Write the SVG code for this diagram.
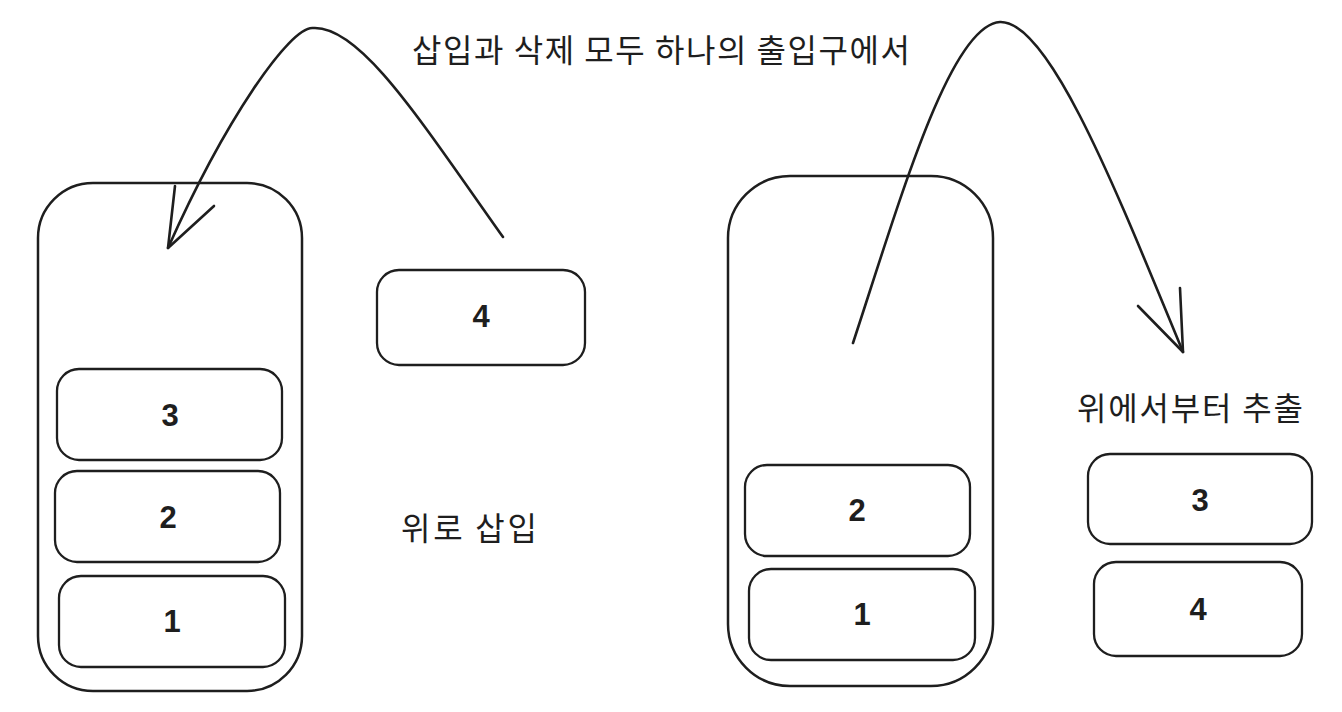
<svg xmlns="http://www.w3.org/2000/svg" width="1342" height="712" viewBox="0 0 1342 712">
<style>
.box{fill:none;stroke:#1e1e1e;stroke-width:2.3}
.cont{fill:none;stroke:#1e1e1e;stroke-width:2.5}
.num{font-family:"Liberation Sans",sans-serif;font-size:31px;font-weight:bold;fill:#1e1e1e;text-anchor:middle;dominant-baseline:central}
.lbl{font-family:"Noto Sans CJK KR","Noto Sans",sans-serif;font-size:32px;fill:#1e1e1e}
.conn{fill:none;stroke:#1e1e1e;stroke-width:2.6;stroke-linecap:round;stroke-linejoin:round}
</style>
<rect width="1342" height="712" fill="#ffffff"/>
<g id="left-stack">
<rect class="cont" x="38" y="183" width="264" height="508" rx="55"/>
</g>
<g id="l3"><rect class="box" x="57" y="369" width="225" height="91" rx="22"/><text class="num" x="170" y="415">3</text></g>
<g id="l2"><rect class="box" x="55" y="471" width="225" height="91" rx="22"/><text class="num" x="168" y="517">2</text></g>
<g id="l1"><rect class="box" x="59" y="576" width="226" height="91" rx="22"/><text class="num" x="172" y="621">1</text></g>
<g id="n4"><rect class="box" x="377" y="270" width="208" height="95" rx="22"/><text class="num" x="481" y="316">4</text></g>
<g id="right-stack">
<rect class="cont" x="728" y="176" width="265" height="510" rx="62"/>
</g>
<g id="r2"><rect class="box" x="745" y="465" width="225" height="91" rx="22"/><text class="num" x="857" y="510">2</text></g>
<g id="r1"><rect class="box" x="749" y="569" width="226" height="91" rx="22"/><text class="num" x="862" y="614">1</text></g>
<g id="r3"><rect class="box" x="1088" y="454" width="224" height="90" rx="22"/><text class="num" x="1200" y="500">3</text></g>
<g id="r4"><rect class="box" x="1094" y="562" width="208" height="94" rx="22"/><text class="num" x="1198" y="609">4</text></g>
<g id="labels">
<text class="lbl" x="412" y="62" textLength="498" lengthAdjust="spacing">삽입과 삭제 모두 하나의 출입구에서</text>
<text class="lbl" x="401" y="540" textLength="136" lengthAdjust="spacing">위로 삽입</text>
<text class="lbl" x="1077" y="420" textLength="226" lengthAdjust="spacing">위에서부터 추출</text>
</g>
<g id="connectors">
<path class="conn" d="M503,237 C420,120 360,25 313,28 C290,26 225,120 168,248"/>
<path class="conn" d="M175,186 L168,248 L214,206"/>
<path class="conn" d="M853,343 C900,200 950,25 1000,22 C1050,20 1120,200 1183,352"/>
<path class="conn" d="M1180,288 L1183,352 L1138,306"/>
</g>
</svg>
